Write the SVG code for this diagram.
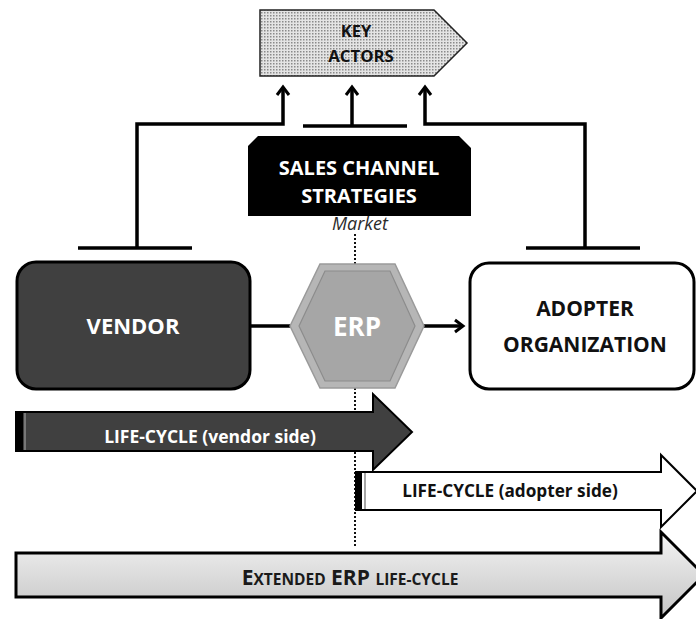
<svg xmlns="http://www.w3.org/2000/svg" width="696" height="619" viewBox="0 0 696 619">
<defs>
<style>
.t{font-family:"Open Sans","Noto Sans","Liberation Sans",sans-serif;font-weight:700;text-anchor:middle}
.w{fill:#ffffff}
.k{fill:#111111}
.ln{fill:none;stroke:#000;stroke-width:3.5}
.dot{fill:none;stroke:#111;stroke-width:2;stroke-dasharray:2 2}
</style>
<pattern id="dots" width="3" height="3" patternUnits="userSpaceOnUse">
<rect width="3" height="3" fill="#e4e4e4"/>
<rect x="0" y="0" width="1.5" height="1.5" fill="#8a8a8a"/>
</pattern>
<linearGradient id="grad" x1="0" y1="0" x2="0" y2="1">
<stop offset="0" stop-color="#f4f4f4"/>
<stop offset="1" stop-color="#c4c4c4"/>
</linearGradient>
<marker id="arr" viewBox="0 0 12 14" refX="10" refY="7" markerWidth="12" markerHeight="14" markerUnits="userSpaceOnUse" orient="auto" overflow="visible">
<path d="M2,1 L10,7 L2,13" fill="none" stroke="#000" stroke-width="3"/>
</marker>
</defs>
<rect width="696" height="619" fill="#ffffff"/>

<g id="connectors">
<path class="ln" d="M78,248 H192"/>
<path class="ln" d="M137,248 V124 H283 V87" marker-end="url(#arr)"/>
<path class="ln" d="M303,126 H407"/>
<path class="ln" d="M352,126 V87" marker-end="url(#arr)"/>
<path class="ln" d="M526,248 H640"/>
<path class="ln" d="M585,248 V124 H425 V87" marker-end="url(#arr)"/>
<path class="ln" d="M250,326 H292"/>
<path class="ln" d="M423,326 H463" marker-end="url(#arr)"/>
<path class="dot" d="M355,234 V264"/>
<path class="dot" d="M355,388 V548"/>
</g>

<g id="key-actors">
<polygon points="260,10 434,10 467,43 434,76 260,76" fill="url(#dots)" stroke="#222" stroke-width="1.5"/>
<text class="t k" x="356" y="37" font-size="16.5">KEY</text>
<text class="t k" x="361" y="62" font-size="16.8">ACTORS</text>
</g>

<g id="sales-channel">
<polygon points="258,136 459,136 471,148 471,216 248,216 248,146" fill="#000"/>
<text class="t w" x="359" y="175" font-size="20">SALES CHANNEL</text>
<text class="t w" x="359" y="203" font-size="20">STRATEGIES</text>
<text x="360" y="230" font-family="'Open Sans','Noto Sans','Liberation Sans',sans-serif" font-style="italic" font-size="18" fill="#2a2a2a" text-anchor="middle">Market</text>
</g>

<g id="vendor">
<rect x="17" y="262" width="233" height="127" rx="19" fill="#404040" stroke="#000" stroke-width="3"/>
<text class="t w" x="133" y="334" font-size="22">VENDOR</text>
</g>

<g id="erp">
<polygon points="290,326 320,264 395,264 424,326 395,388 320,388" fill="#b6b6b6" stroke="#9a9a9a" stroke-width="1.5"/>
<polygon points="299,326 325,271 390,271 415,326 390,381 325,381" fill="#a6a6a6" stroke="#8c8c8c" stroke-width="1.2"/>
<text class="t w" x="357" y="336" font-size="26">ERP</text>
</g>

<g id="adopter">
<rect x="470" y="263" width="224" height="126" rx="19" fill="#ffffff" stroke="#000" stroke-width="3"/>
<text class="t k" x="585" y="316" font-size="21">ADOPTER</text>
<text class="t k" x="585" y="352" font-size="21">ORGANIZATION</text>
</g>

<g id="lifecycle-vendor">
<polygon points="16,412 373,412 373,394 412,432 373,470 373,451 16,451" fill="#404040" stroke="#000" stroke-width="2"/>
<rect x="16" y="412" width="7" height="39" fill="#000"/>
<line x1="25" y1="413" x2="25" y2="450" stroke="#8a8a8a" stroke-width="1.5"/>
<text class="t w" x="210" y="443" font-size="17.5">LIFE-CYCLE (vendor side)</text>
</g>

<g id="lifecycle-adopter">
<polygon points="356,472 661,472 661,455 697,491 661,527 661,510 356,510" fill="#ffffff" stroke="#000" stroke-width="2"/>
<rect x="356" y="472" width="6" height="38" fill="#000"/>
<line x1="365" y1="473" x2="365" y2="509" stroke="#888" stroke-width="1.5"/>
<text class="t k" x="510" y="497" font-size="17.2">LIFE-CYCLE (adopter side)</text>
</g>

<g id="extended-lifecycle">
<polygon points="16,553 661,553 661,532 704,575 661,618 661,597 16,597" fill="url(#grad)" stroke="#000" stroke-width="3"/>
<text class="t" x="350" y="585" fill="#1a1a1a" font-size="21">E<tspan font-size="15.5">XTENDED</tspan> ERP <tspan font-size="15.5">LIFE-CYCLE</tspan></text>
</g>
</svg>
